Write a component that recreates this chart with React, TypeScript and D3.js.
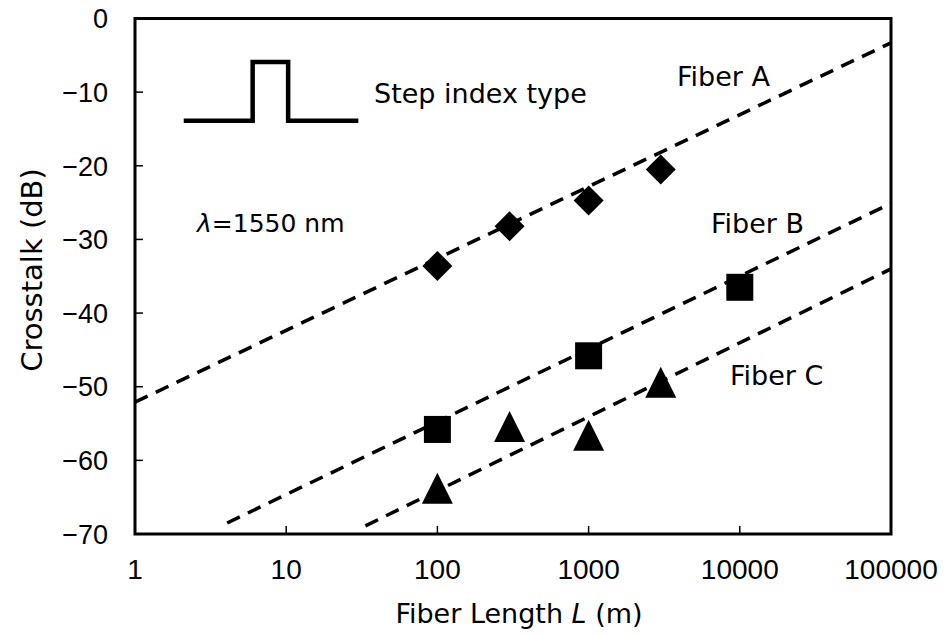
import React, { useEffect, useRef } from 'react';
import * as d3 from 'd3';

// measured points (length in m, crosstalk in dB)
const fiberALength = [100, 300, 1000, 3000];
const fiberAValues = [-33.6, -28.2, -24.7, -20.5];
const fiberBLength = [100, 1000, 10000];
const fiberBValues = [-55.8, -45.8, -36.5];
const fiberCLength = [100, 300, 1000, 3000];
const fiberCValues = [-63.8, -55.4, -56.6, -49.4];

// dashed fit lines: [start length, start dB, end length, end dB]
const fitA = [1, -52.1, 100000, -3.3];
const fitB = [4.07, -68.5, 100000, -25.1];
const fitC = [33.4, -68.9, 100000, -34.0];

const xTicks = [1, 10, 100, 1000, 10000, 100000];
const yTicks = [0, -10, -20, -30, -40, -50, -60, -70];

// step index profile sketch, in data units
const stepLength = [2.1, 6, 6, 10.3, 10.3, 30];
const stepLevel = [-13.9, -13.9, -5.9, -5.9, -13.9, -13.9];

const App = () => {
  const svgRef = useRef<SVGSVGElement | null>(null);

  useEffect(() => {
    const W = 948;
    const H = 635;
    const margin = { top: 18.5, right: 57, bottom: 101, left: 135 };
    const width = W - margin.left - margin.right;
    const height = H - margin.top - margin.bottom;

    d3.select(svgRef.current).selectAll('*').remove();

    const svg = d3.select(svgRef.current)
      .attr('width', W)
      .attr('height', H)
      .style('background', 'white');

    const g = svg.append('g')
      .attr('transform', `translate(${margin.left},${margin.top})`);

    const x = d3.scaleLog().domain([1, 100000]).range([0, width]);
    const y = d3.scaleLinear().domain([-70, 0]).range([height, 0]);

    const numFont = '"Liberation Sans", Arial, sans-serif';
    const textFont = '"DejaVu Sans", sans-serif';

    // ticks (inward)
    g.selectAll('.xtick')
      .data(xTicks.slice(1, -1))
      .enter()
      .append('line')
      .attr('x1', d => x(d))
      .attr('x2', d => x(d))
      .attr('y1', height)
      .attr('y2', height - 8)
      .attr('stroke', 'black')
      .attr('stroke-width', 1.5);

    g.selectAll('.ytick')
      .data(yTicks.slice(1, -1))
      .enter()
      .append('line')
      .attr('x1', 0)
      .attr('x2', 8)
      .attr('y1', d => y(d))
      .attr('y2', d => y(d))
      .attr('stroke', 'black')
      .attr('stroke-width', 1.5);

    // tick labels
    g.selectAll('.xlabel')
      .data(xTicks)
      .enter()
      .append('text')
      .attr('x', d => x(d))
      .attr('y', height + 45)
      .attr('text-anchor', 'middle')
      .attr('font-family', numFont)
      .attr('font-size', 28)
      .text(d => String(d));

    g.selectAll('.ylabel')
      .data(yTicks)
      .enter()
      .append('text')
      .attr('x', -27)
      .attr('y', d => y(d))
      .attr('dy', '0.36em')
      .attr('text-anchor', 'end')
      .attr('font-family', numFont)
      .attr('font-size', 27)
      .text(d => (d < 0 ? '\u2212' + Math.abs(d) : String(d)));

    // axis titles
    const xTitle = svg.append('text')
      .attr('x', 519)
      .attr('y', 623)
      .attr('text-anchor', 'middle')
      .attr('font-family', textFont)
      .attr('font-size', 27);
    xTitle.append('tspan').text('Fiber Length ');
    xTitle.append('tspan').attr('font-style', 'italic').text('L');
    xTitle.append('tspan').text(' (m)');

    svg.append('text')
      .attr('transform', 'translate(42,270) rotate(-90)')
      .attr('text-anchor', 'middle')
      .attr('font-family', textFont)
      .attr('font-size', 29)
      .text('Crosstalk (dB)');

    // fit lines
    const line = d3.line<number[]>().x(d => x(d[0])).y(d => y(d[1]));
    [fitA, fitB, fitC].forEach(f => {
      g.append('path')
        .datum([[f[0], f[1]], [f[2], f[3]]])
        .attr('fill', 'none')
        .attr('stroke', 'black')
        .attr('stroke-width', 3.5)
        .attr('stroke-dasharray', '14,9')
        .attr('d', line);
    });

    // markers
    const diamond = d3.symbol().type(d3.symbolSquare).size(450);
    fiberALength.forEach((l, i) => {
      g.append('path')
        .attr('d', diamond())
        .attr('transform', `translate(${x(l)},${y(fiberAValues[i])}) rotate(45)`)
        .attr('fill', 'black');
    });

    const square = d3.symbol().type(d3.symbolSquare).size(729);
    fiberBLength.forEach((l, i) => {
      g.append('path')
        .attr('d', square())
        .attr('transform', `translate(${x(l)},${y(fiberBValues[i])})`)
        .attr('fill', 'black');
    });

    fiberCLength.forEach((l, i) => {
      const cx = x(l);
      const cy = y(fiberCValues[i]);
      const p = d3.path();
      p.moveTo(cx, cy - 15.5);
      p.lineTo(cx + 15.5, cy + 15.5);
      p.lineTo(cx - 15.5, cy + 15.5);
      p.closePath();
      g.append('path').attr('d', p.toString()).attr('fill', 'black');
    });

    // step index profile sketch
    g.append('path')
      .datum(stepLength.map((l, i) => [l, stepLevel[i]]))
      .attr('fill', 'none')
      .attr('stroke', 'black')
      .attr('stroke-width', 4.5)
      .attr('d', line);

    // annotations
    const note = (px: number, py: number, txt: string) =>
      svg.append('text')
        .attr('x', px)
        .attr('y', py)
        .attr('font-family', textFont)
        .attr('font-size', 27)
        .text(txt);

    note(374, 103, 'Step index type');
    note(677, 86, 'Fiber A');
    note(711, 233, 'Fiber B');
    note(730, 385, 'Fiber C');

    const lam = svg.append('text')
      .attr('x', 197)
      .attr('y', 232)
      .attr('font-family', textFont)
      .attr('font-size', 25);
    lam.append('tspan').attr('font-style', 'italic').text('\u03bb');
    lam.append('tspan').text('=1550 nm');

    // frame
    g.append('rect')
      .attr('x', 0)
      .attr('y', 0)
      .attr('width', width)
      .attr('height', height)
      .attr('fill', 'none')
      .attr('stroke', 'black')
      .attr('stroke-width', 3);
  }, []);

  return (
    <svg
      ref={svgRef}
      style={{ position: 'absolute', left: 0, top: 0, display: 'block' }}
    />
  );
};

export default App;
